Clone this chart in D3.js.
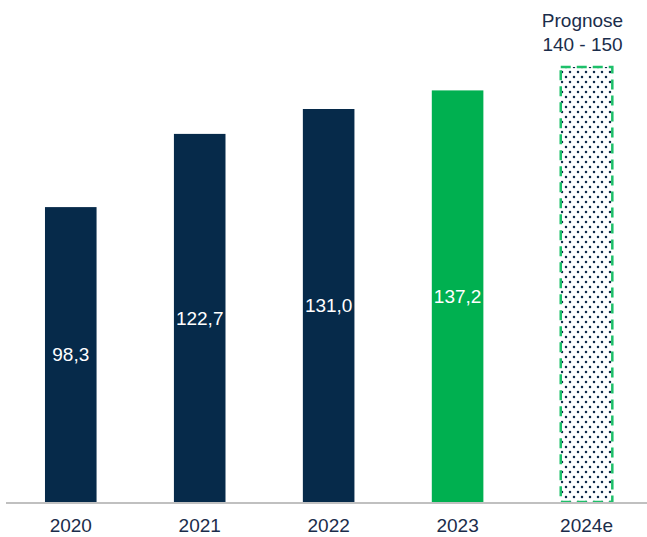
<!DOCTYPE html>
<html>
<head>
<meta charset="utf-8">
<script src="https://cdn.jsdelivr.net/npm/d3@7"></script>
<style>
  html, body { margin: 0; padding: 0; background: #fff; }
  svg { display: block; font-family: "Liberation Sans", Arial, sans-serif; }
</style>
</head>
<body>
<svg class="chart"></svg>
<script>
var years = ["2020", "2021", "2022", "2023", "2024e"];
var values = [98.3, 122.7, 131.0, 137.2, 145];
var labels = ["98,3", "122,7", "131,0", "137,2", ""];
var kinds = ["actual", "actual", "actual", "current", "forecast"];
var forecastText = ["Prognose", "140 - 150"];

var width = 647, height = 537;
var baseY = 502;

var svg = d3.select(".chart")
    .attr("width", width)
    .attr("height", height);

// dotted fill for the forecast bar
var defs = svg.append("defs");
var pat = defs.append("pattern")
    .attr("id", "dots")
    .attr("patternUnits", "userSpaceOnUse")
    .attr("width", 8)
    .attr("height", 10);
pat.append("rect").attr("width", 8).attr("height", 10).attr("fill", "#fff");
pat.append("circle").attr("cx", 2).attr("cy", 2).attr("r", 1.25).attr("fill", "#0f2a4a");
pat.append("circle").attr("cx", 6).attr("cy", 7).attr("r", 1.25).attr("fill", "#0f2a4a");

var x = d3.scaleBand()
    .domain(years)
    .range([6.3, 651])
    .paddingInner(0.6)
    .paddingOuter(0.3);

var y = d3.scaleLinear()
    .domain([0, 145])
    .range([baseY, 67]);

var colors = { actual: "#062a4a", current: "#00b050" };

var data = years.map(function(yr, i) {
    return { year: yr, value: values[i], label: labels[i], kind: kinds[i] };
});

var bars = svg.selectAll(".bar").data(data).enter();

bars.append("rect")
    .attr("class", "bar")
    .attr("x", function(d) { return x(d.year); })
    .attr("y", function(d) { return y(d.value); })
    .attr("width", x.bandwidth())
    .attr("height", function(d) { return baseY - y(d.value); })
    .attr("fill", function(d) { return d.kind === "forecast" ? "url(#dots)" : colors[d.kind]; })
    .attr("stroke", function(d) { return d.kind === "forecast" ? "#1ec06a" : "none"; })
    .attr("stroke-width", 2.5)
    .attr("stroke-dasharray", function(d) { return d.kind === "forecast" ? "10,6" : null; });

bars.append("text")
    .attr("x", function(d) { return x(d.year) + x.bandwidth() / 2; })
    .attr("y", function(d) { return (y(d.value) + baseY) / 2; })
    .attr("dy", "0.35em")
    .attr("text-anchor", "middle")
    .attr("fill", "#fff")
    .style("font-size", "19px")
    .text(function(d) { return d.label; });

// baseline
svg.append("line")
    .attr("x1", 6).attr("x2", 647)
    .attr("y1", baseY + 1).attr("y2", baseY + 1)
    .attr("stroke", "#c0c0c0")
    .attr("stroke-width", 2);

var xAxis = svg.append("g")
    .attr("transform", "translate(0," + (baseY + 2) + ")")
    .call(d3.axisBottom(x).tickSize(0).tickPadding(15));
xAxis.select(".domain").remove();
xAxis.selectAll("text")
    .attr("fill", "#1b2d4b")
    .style("font-size", "19px")
    .style("font-family", "'Liberation Sans', Arial, sans-serif");

// forecast annotation
var fx = x("2024e") + x.bandwidth() / 2 - 4;
svg.append("g").selectAll("text").data(forecastText).enter()
    .append("text")
    .attr("x", fx)
    .attr("y", function(d, i) { return 27 + i * 24; })
    .attr("text-anchor", "middle")
    .attr("fill", "#1b2d4b")
    .style("font-size", "19px")
    .text(function(d) { return d; });
</script>
</body>
</html>
